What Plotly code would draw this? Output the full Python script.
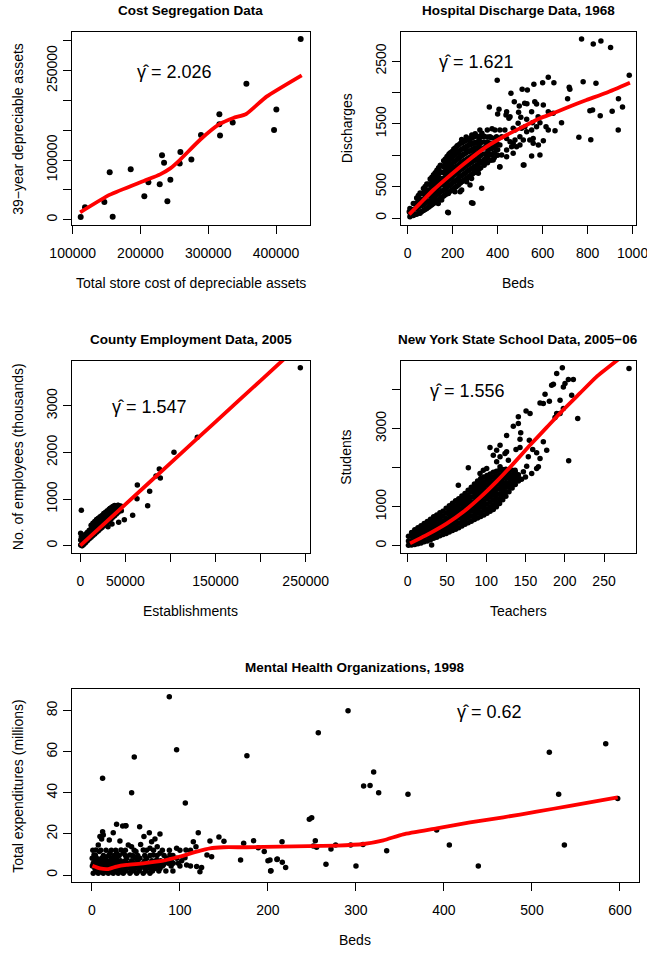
import plotly.graph_objects as go

W, H = 647, 953

# ---------------- Panel 1: Cost Segregation ----------------
cs_total = [111800, 118200, 146700, 154600, 159000, 185600, 205700, 211700, 228400, 231800,
            234800, 239700, 244100, 257900, 258900, 275100, 289300, 316400, 316400, 317400,
            336100, 356300, 397100, 400500, 436400]
cs_39yr = [4500, 20700, 29600, 79400, 5000, 84500, 39100, 62600, 59300, 107900,
           95600, 30800, 67100, 94000, 113500, 100700, 142100, 176700, 160000, 141000,
           162800, 228200, 150400, 184600, 303100]
cs_fit_x = [111000, 155000, 205000, 229000, 244000, 258000, 288000, 317000, 337000, 356000, 386000, 437900]
cs_fit_y = [12300, 42000, 65000, 76000, 86000, 100000, 134000, 160500, 170600, 177300, 206400, 242200]

# ---------------- Panel 2: Hospital discharge ----------------
hosp_points = [
    (773, 2851), (825, 2771), (859, 2819), (902, 2713), (985, 2272), (398, 2192), (780, 2171),
    (837, 2144), (650, 2155), (600, 2155), (625, 2240), (561, 2128), (509, 2049), (532, 2038),
    (459, 1985), (718, 2081), (721, 2049), (711, 1900), (937, 1900), (955, 1767), (822, 1720),
    (810, 1709), (856, 1630), (909, 1698), (936, 1401), (761, 1284), (814, 1247), (363, 1767),
    (406, 1730), (400, 1656), (474, 1853), (520, 1826), (496, 1784), (530, 1821), (565, 1853),
    (573, 1815), (551, 1693), (603, 1800), (493, 1683), (503, 1603), (437, 1640), (455, 1614),
    (440, 1693), (450, 1587), (625, 1693), (647, 1667), (580, 1614), (588, 1518), (615, 1454),
    (625, 1401), (655, 1390), (684, 1518), (555, 1518), (529, 1571), (551, 1401), (529, 1375),
    (558, 1268), (514, 1242), (477, 1242), (499, 1162), (484, 1136), (603, 1231), (588, 1003),
    (551, 987), (517, 844), (469, 1030), (410, 817), (375, 1422), (354, 1401), (321, 1401),
    (336, 1295), (388, 1401), (418, 1295), (440, 1268), (455, 1215), (410, 1162), (395, 1083),
    (380, 923), (351, 976), (336, 870), (314, 711), (351, 1189), (321, 1215), (299, 1189),
    (292, 1083), (277, 1215), (262, 1083), (240, 1003), (218, 1056), (188, 1019), (247, 897),
    (299, 764), (284, 631), (262, 578), (277, 525), (225, 605), (210, 419), (233, 419),
    (181, 392), (151, 286), (136, 233), (181, 85), (284, 244), (240, 446), (358, 1083),
    (380, 1189), (432, 1401), (469, 1428), (491, 1507), (477, 1401), (506, 1428),
    (521, 1454), (573, 1454), (366, 1136), (395, 1295), (410, 1401), (366, 1295),
    (344, 923), (373, 1003), (440, 1083), (462, 1136), (418, 1003), (440, 976), (469, 1189),
    (499, 1295), (543, 1242), (558, 1189), (581, 1162), (290, 234), (178, 91), (329, 473),
    (514, 844), (409, 812), (184, 1019), (225, 950), (7, 101), (55, 74), (22, 127),
    (300, 1340), (330, 1350), (285, 1320), (260, 1290), (240, 1250),
]
# dense cloud of small hospitals, read column by column (beds, [discharges...])
hosp_cloud = [
    (10, [20, 85, 150]), (17.5, [50, 120]), (25, [40, 135, 230]), (32.5, [55, 145, 230]),
    (40, [60, 150, 240, 320]), (47.5, [75, 170, 270, 360]),
    (55, [90, 195, 300, 400]), (62.5, [105, 200, 300, 390]),
    (70, [120, 210, 295, 385, 470]), (77.5, [135, 230, 320, 410, 500]),
    (85, [150, 250, 345, 440, 540]), (92.5, [170, 260, 355, 445, 540]),
    (100, [190, 275, 360, 450, 535, 620]), (107.5, [210, 300, 385, 475, 565, 650]),
    (115, [230, 320, 410, 505, 595, 690]), (122.5, [250, 345, 440, 535, 630, 720]),
    (130, [270, 370, 465, 565, 660, 760]), (137.5, [290, 390, 495, 595, 700, 800]),
    (145, [310, 415, 525, 630, 735, 840]), (152.5, [330, 430, 530, 630, 730, 830]),
    (160, [350, 445, 535, 630, 720, 815, 910]), (167.5, [370, 465, 560, 655, 750, 850, 940]),
    (175, [390, 490, 585, 685, 785, 880, 980]), (182.5, [410, 510, 610, 710, 810, 910, 1000]),
    (190, [430, 530, 630, 735, 835, 940, 1040]), (197.5, [450, 550, 655, 760, 860, 965, 1060]),
    (205, [470, 575, 680, 785, 890, 995, 1100]), (212.5, [490, 595, 700, 805, 910, 1015, 1120]),
    (220, [510, 615, 720, 830, 935, 1040, 1150]), (227.5, [535, 640, 745, 850, 955, 1060, 1165]),
    (235, [560, 665, 770, 875, 980, 1085, 1190]), (242.5, [580, 680, 785, 890, 995, 1100, 1200]),
    (250, [600, 700, 805, 910, 1015, 1120, 1220]), (257.5, [620, 720, 825, 925, 1030, 1130, 1230]),
    (265, [640, 745, 845, 945, 1050, 1150, 1250]), (272.5, [660, 760, 860, 960, 1060, 1160, 1260]),
    (280, [680, 780, 880, 975, 1075, 1170, 1270]), (287.5, [700, 795, 895, 990, 1090, 1185, 1280]),
    (295, [720, 815, 915, 1010, 1105, 1200, 1290]), (302.5, [740, 830, 925, 1020, 1110, 1200]),
    (310, [760, 850, 940, 1030, 1120, 1210, 1300]), (317.5, [780, 875, 970, 1065, 1160, 1250]),
    (325, [800, 900, 1000, 1100, 1200, 1300]), (340, [840, 930, 1020, 1120, 1210, 1300]),
    (347.5, [945, 1120]), (355, [880, 960, 1040, 1130, 1210, 1290]), (370, [920, 1010, 1100, 1190, 1280]),
    (385, [960, 1040, 1120, 1190, 1270]), (400, [1000, 1085, 1170, 1260]),
]
hosp_beds = [p[0] for p in hosp_points] + [c[0] for c in hosp_cloud for _ in c[1]]
hosp_discharges = [p[1] for p in hosp_points] + [v for c in hosp_cloud for v in c[1]]
hosp_fit_x = [7, 55, 114, 173, 262, 351, 440, 529, 588, 647, 707, 795, 884, 988]
hosp_fit_y = [58, 233, 446, 632, 897, 1136, 1322, 1481, 1587, 1667, 1757, 1879, 1996, 2155]

# ---------------- Panel 3: County employment ----------------
county_points = [
    (244030, 3820), (129800, 2325), (103920, 2004), (87650, 1646), (83960, 1496), (88770, 1453),
    (63260, 1303), (76930, 1167), (62890, 1009), (74720, 859), (58080, 652), (48840, 559),
    (42550, 502), (1150, 759),
    (406, 15), (4843, 122), (10760, 237), (16670, 337), (22590, 451), (28500, 559),
    (34420, 673), (40330, 780), (43290, 838), (45510, 752), (35160, 466), (30720, 408),
    (406, 265), (1145, 194), (406, 122), (3364, 37), (1885, 5), (5582, 230), (19630, 566),
    (27760, 695), (33310, 802), (38110, 838), (41810, 866), (44770, 852),
]
county_cloud = [
    (2000, [0, 90, 180]), (4000, [30, 120, 210]), (6000, [70, 160, 250]), (8000, [110, 200, 290]),
    (10000, [150, 240, 330]), (12000, [180, 270, 360, 440]), (14000, [220, 310, 400, 480]),
    (16000, [250, 340, 430, 520]), (18000, [290, 380, 470, 560]), (20000, [320, 410, 500, 590]),
    (22000, [360, 450, 540, 620]), (24000, [390, 480, 570, 650]), (26000, [430, 520, 610, 690]),
    (28000, [460, 550, 640, 720]), (30000, [500, 590, 680, 750]), (32000, [540, 630, 710, 780]),
    (34000, [570, 660, 750, 810]), (36000, [610, 700, 780, 840]), (38000, [640, 730, 810, 860]),
    (40000, [680, 770, 850]), (42000, [720, 800, 860]), (44000, [760, 830]),
]
county_estab = [p[0] for p in county_points] + [c[0] for c in county_cloud for _ in c[1]]
county_employees = [p[1] for p in county_points] + [v for c in county_cloud for v in c[1]]
county_fit_x = [0, 50000, 100000, 150000, 200000, 250000]
county_fit_y = [0, 886, 1772, 2658, 3544, 4430]

# ---------------- Panel 4: NY schools ----------------
school_points = [
    (281.8, 4536), (196.9, 4561), (189.7, 4408), (210.9, 4255), (204.6, 4255), (200.3, 4152),
    (185.5, 4135), (198.2, 4067), (174.9, 3879), (172.7, 3641), (180.4, 3700), (168.5, 3658),
    (208.8, 3854), (198.2, 3513), (194, 3385), (187.6, 3283), (216.5, 3257), (205, 2175),
    (150.7, 3453), (155.8, 3385), (140.9, 3300), (134.5, 3061), (143.9, 2891), (126, 2822),
    (143, 2729), (154.9, 2703), (117.6, 2575), (104.8, 2515), (113.3, 2447), (126, 2405),
    (137.9, 2464), (143, 2515), (159.2, 2464), (164.2, 2379), (177, 2447), (153.6, 2277),
    (168.5, 2234), (151.5, 2038), (164.2, 1978), (147.3, 1893), (157.9, 1851), (136.7, 1936),
    (128.2, 2191), (113.3, 2149), (117.6, 2021), (77.2, 1995), (128.2, 1808),
    (183.3, 4110), (194, 3726), (189.7, 3385), (172.7, 2660), (166.4, 2021), (140.9, 3129),
    (109, 2319), (117.6, 2277), (123.9, 2362), (64.5, 1552), (100.6, 1978), (92.1, 1851),
    (96.3, 1936), (30.5, 18), (145, 1700), (150, 1760),
]
# dense band of districts, read column by column (teachers, [students...])
school_cloud = [
    (1, [10, 120, 240]), (5, [20, 130, 240, 340]), (9, [30, 130, 230, 330, 410]),
    (13, [50, 150, 250, 350, 460]), (17, [70, 180, 290, 400, 510]),
    (21, [100, 215, 330, 450, 570]), (25, [120, 245, 370, 495, 620]),
    (29, [150, 260, 370, 480, 580, 680]), (33, [190, 300, 410, 520, 630, 740]),
    (37, [220, 335, 450, 560, 675, 790]), (41, [255, 375, 490, 610, 725, 845]),
    (45, [285, 400, 520, 640, 760, 880]), (49, [310, 440, 570, 700, 830, 960]),
    (53, [350, 460, 570, 690, 800, 910, 1025]), (57, [390, 505, 620, 735, 850, 970, 1085]),
    (61, [420, 540, 660, 780, 905, 1025, 1150]), (65, [460, 585, 710, 835, 955, 1080, 1205]),
    (69, [505, 615, 725, 835, 945, 1055, 1165, 1275]),
    (73, [550, 665, 775, 890, 1000, 1115, 1230, 1340]),
    (77, [590, 710, 825, 945, 1065, 1185, 1300, 1420]),
    (81, [630, 755, 880, 1005, 1125, 1250, 1375, 1500]),
    (85, [670, 785, 900, 1010, 1125, 1240, 1350, 1465, 1580]),
    (89, [710, 830, 945, 1065, 1180, 1300, 1420, 1535, 1655]),
    (93, [750, 870, 990, 1110, 1235, 1355, 1475, 1595, 1720]),
    (97, [790, 910, 1030, 1155, 1275, 1395, 1520, 1640, 1760]),
    (101, [830, 950, 1070, 1195, 1315, 1435, 1560, 1680, 1800]),
    (105, [880, 1000, 1120, 1240, 1360, 1480, 1600, 1720, 1840]),
    (109, [930, 1050, 1170, 1290, 1405, 1525, 1640, 1760, 1880]),
    (113, [995, 1110, 1225, 1340, 1450, 1565, 1680, 1790, 1905]),
    (117, [1080, 1200, 1320, 1445, 1565, 1690, 1810, 1935]),
    (121, [1180, 1290, 1400, 1510, 1620, 1730, 1840, 1950]),
    (125, [1270, 1385, 1500, 1615, 1730, 1845, 1960]),
    (129, [1380, 1495, 1610, 1725, 1840, 1955]),
    (133, [1480, 1590, 1700, 1815, 1930]), (137, [1570, 1680, 1790, 1890]),
    (141, [1660, 1740, 1820]),
]
school_teachers = [p[0] for p in school_points] + [c[0] for c in school_cloud for _ in c[1]]
school_students = [p[1] for p in school_points] + [v for c in school_cloud for v in c[1]]
school_fit_x = [3, 28, 50, 71, 92, 113, 134, 155, 177, 198, 219, 240, 270]
school_fit_y = [61, 316, 571, 869, 1230, 1640, 2090, 2560, 3030, 3480, 3900, 4320, 4800]

# ---------------- Panel 5: Mental health ----------------
mh_points = [
    (87.9, 86.8), (96.2, 61.0), (48.1, 57.4), (176.1, 58.1), (12.1, 47.1), (45.1, 40.1), (106.1, 35.0),
    (291, 80.0), (257.2, 69.3), (583.8, 63.9), (519.7, 59.7), (320.1, 50.1), (308.7, 43.3), (316, 43.6),
    (325.8, 40.1), (359.1, 39.3), (530.3, 39.3), (247, 27.1), (249.7, 27.9), (597.4, 37.3), (391.7, 21.9),
    (253.8, 16.7), (216, 16.2), (251.5, 14.1), (255.3, 13.5), (271.6, 12.7), (276.9, 14.6), (294, 14.6),
    (308, 14.8), (334.9, 11.8), (406.1, 14.6), (536.8, 14.6), (265.9, 5.2), (300, 4.4), (439, 4.4),
    (202.3, 7.3), (210.6, 7.8), (216.3, 6.2), (220.1, 3.6), (203.4, 2.1),
    (28, 24.7), (38.3, 24.0), (24.2, 20.6), (12.1, 21.1), (54.2, 23.5), (65.2, 20.6), (77.3, 19.95),
    (120.8, 20.6), (144.3, 18.5), (150, 16.4), (183.7, 16.7), (172.4, 15.4), (189, 13.3), (195.8, 11.4),
    (168.9, 7.3), (200, 7.0), (203, 1.9), (210.2, 7.5), (124.6, 3.6), (119, 4.1), (122.7, 1.6),
    (134.1, 16.6), (130.7, 9.7), (136, 8.9), (118.2, 13.8), (115.2, 16.2), (96.2, 13.0), (106.8, 12.2),
    (107.6, 4.9), (105.7, 8.4), (96.2, 8.1), (12.9, 19.5), (11, 17.5), (7.2, 14.6), (4.5, 12.2),
    (19.7, 17.0), (31.8, 16.6), (33, 12.2), (41.3, 14.6), (45, 13.8), (50, 11.4), (55.3, 14.9),
    (58.3, 12.2), (65.9, 13.0), (67.8, 16.2), (71.6, 17.5), (74.2, 13.8), (59.1, 18.7), (48.9, 8.1),
    (43.2, 9.7), (35.6, 10.6), (28, 10.6), (20.5, 10.6), (15.9, 8.1), (69.7, 9.7), (77.3, 10.6),
    (84.9, 8.1), (88.6, 9.7), (73.5, 7.3), (81.1, 4.9), (2.3, 9.7), (8.3, 11.4), (9.1, 18.7),
    (34.9, 23.8), (38.6, 24.0),
]
# dense low-expenditure cloud, read row by row (expenditure, [beds...])
mh_cloud = [
    (0.8, [1.5, 7.2, 12.9, 18.6, 24.2, 29.9, 35.6, 43.2, 50.8, 58.3, 65.9]),
    (2.0, [4.3, 10, 15.7, 21.4, 27, 32.7, 38.4, 46, 53.6, 61.2, 68.8, 76, 84, 92]),
    (3.2, [3.4, 9.1, 14.8, 20.5, 26.1, 31.8, 37.5, 43.2, 48.9, 54.5, 60.2, 65.9, 71.6, 77.3]),
    (4.4, [0.5, 6.1, 11.8, 17.5, 23.2, 28.9, 34.5, 40.2, 45.9, 51.6, 57.3, 63, 68.6, 74.3, 80, 90, 100, 112]),
    (5.7, [1.5, 7.2, 12.9, 18.6, 24.2, 29.9, 35.6, 41.3, 47, 52.7, 58.3, 64, 69.7, 75.4, 81.1, 86.7, 92.4, 98.1]),
    (6.9, [4, 9.7, 15.4, 21, 26.7, 32.4, 38, 45, 52, 60, 68, 78, 90, 102]),
    (8.1, [0.3, 5.3, 11, 22.4, 28, 39.4, 54.5, 62.1]),
    (9.5, [4, 13, 19, 25, 31, 38, 46, 52, 60, 66, 74, 82, 92]),
    (12.0, [1, 10, 16, 22, 27, 38, 48, 62, 70, 80, 88, 100, 112]),
]
mh_beds = [p[0] for p in mh_points] + [b for r in mh_cloud for b in r[1]]
mh_expend = [p[1] for p in mh_points] + [r[0] for r in mh_cloud for _ in r[1]]
mh_fit_x = [0.5, 9.1, 18.6, 28, 39.4, 58.3, 81.1, 100, 119, 134.1, 149.2, 175.8, 213.6, 278, 308.4,
            331.1, 353.8, 391.7, 429.6, 467.5, 505.3, 543.2, 597.4]
mh_fit_y = [4.5, 3.2, 2.9, 4.1, 4.9, 5.7, 7.0, 9.0, 11.4, 13.0, 13.5, 13.5, 13.8, 14.3, 15.1,
            16.9, 19.8, 22.7, 25.6, 28.1, 30.8, 33.7, 37.8]

# ---------------- Titles, labels, ticks ----------------
titles = ["Cost Segregation Data", "Hospital Discharge Data, 1968", "County Employment Data, 2005",
          "New York State School Data, 2005\u221206", "Mental Health Organizations, 1998"]
xlabels = ["Total store cost of depreciable assets", "Beds", "Establishments", "Teachers", "Beds"]
ylabels = ["39\u2212year depreciable assets", "Discharges", "No. of employees (thousands)",
           "Students", "Total expenditures (millions)"]
gamma_labels = ["2.026", "1.621", "1.547", "1.556", "0.62"]

x1_ticks = [100000, 200000, 300000, 400000]
x1_text = ["100000", "200000", "300000", "400000"]
y1_ticks = [0, 50000, 100000, 150000, 200000, 250000, 300000]
y1_text = ["0", "", "100000", "", "", "250000", ""]
x2_ticks = [0, 200, 400, 600, 800, 1000]
x2_text = ["0", "200", "400", "600", "800", "1000"]
y2_ticks = [0, 500, 1000, 1500, 2000, 2500]
y2_text = ["0", "500", "", "1500", "", "2500"]
x3_ticks = [0, 50000, 100000, 150000, 200000, 250000]
x3_text = ["0", "50000", "", "150000", "", "250000"]
y3_ticks = [0, 1000, 2000, 3000]
y3_text = ["0", "1000", "2000", "3000"]
x4_ticks = [0, 50, 100, 150, 200, 250]
x4_text = ["0", "50", "100", "150", "200", "250"]
y4_ticks = [0, 1000, 2000, 3000, 4000]
y4_text = ["0", "1000", "", "3000", ""]
x5_ticks = [0, 100, 200, 300, 400, 500, 600]
x5_text = ["0", "100", "200", "300", "400", "500", "600"]
y5_ticks = [0, 20, 40, 60, 80]
y5_text = ["0", "20", "40", "60", "80"]

# ---------------- Layout geometry (pixels) ----------------
FONT = "Liberation Sans, Arial, Helvetica, sans-serif"
boxes = [  # left, right, top, bottom
    (71.7, 310.0, 32.3, 225.3),
    (400.7, 636.0, 32.3, 225.3),
    (71.7, 310.0, 361.0, 553.3),
    (400.7, 636.0, 361.0, 553.3),
    (71.7, 639.0, 689.3, 882.3),
]
xranges = [[98525, 450150], [-31, 1015], [-9540, 254770], [-8.9, 290.7], [-23, 621.6]]
yranges = [[-9500, 314330], [-116, 2957], [-163, 3963], [-194, 4731], [-3.55, 90.4]]
xticks = [(x1_ticks, x1_text), (x2_ticks, x2_text), (x3_ticks, x3_text), (x4_ticks, x4_text), (x5_ticks, x5_text)]
yticks = [(y1_ticks, y1_text), (y2_ticks, y2_text), (y3_ticks, y3_text), (y4_ticks, y4_text), (y5_ticks, y5_text)]
gamma_px = [(135, 78.3), (436.7, 68.3), (110, 413.3), (427.7, 397.3), (455, 718.3)]  # gamma left, baseline

series = [
    (cs_total, cs_39yr, cs_fit_x, cs_fit_y, 6),
    (hosp_beds, hosp_discharges, hosp_fit_x, hosp_fit_y, 5.5),
    (county_estab, county_employees, county_fit_x, county_fit_y, 5.5),
    (school_teachers, school_students, school_fit_x, school_fit_y, 5.5),
    (mh_beds, mh_expend, mh_fit_x, mh_fit_y, 5.5),
]

fig = go.Figure()
annotations = []


def px_x(p):
    return p / W


def px_y(p):
    return 1 - p / H


for i, (xs, ys, fx, fy, msize) in enumerate(series):
    n = "" if i == 0 else str(i + 1)
    fig.add_trace(go.Scatter(x=xs, y=ys, mode="markers", xaxis="x" + n, yaxis="y" + n,
                             marker=dict(color="black", size=msize, line=dict(width=0)),
                             hoverinfo="skip", showlegend=False))
    fig.add_trace(go.Scatter(x=fx, y=fy, mode="lines", xaxis="x" + n, yaxis="y" + n,
                             line=dict(color="#FF0000", width=3.8, shape="spline", smoothing=0.5),
                             hoverinfo="skip", showlegend=False))
    l, r, t, b = boxes[i]
    common = dict(showline=True, linecolor="black", linewidth=1, mirror=True, ticks="outside",
                  ticklen=8, tickwidth=1, tickcolor="black", showgrid=False, zeroline=False,
                  automargin=False, ticklabeloverflow="allow",
                  tickfont=dict(family=FONT, size=14, color="black"), fixedrange=True)
    fig.layout["xaxis" + n] = dict(domain=[px_x(l), px_x(r)], range=xranges[i],
                                   anchor="y" + n, tickmode="array", tickvals=xticks[i][0],
                                   ticktext=xticks[i][1], ticklabelstandoff=7, **common)
    fig.layout["yaxis" + n] = dict(domain=[px_y(b), px_y(t)], range=yranges[i],
                                   anchor="x" + n, tickmode="array", tickvals=yticks[i][0],
                                   ticktext=yticks[i][1], tickangle=-90, **common)
    cx = (l + r) / 2
    cy = (t + b) / 2
    annotations.append(dict(text="<b>" + titles[i] + "</b>", x=px_x(cx), y=px_y(t - 22),
                            xref="paper", yref="paper", showarrow=False, xanchor="center",
                            yanchor="middle", font=dict(family=FONT, size=13.5, color="black")))
    annotations.append(dict(text=xlabels[i], x=px_x(cx), y=px_y(b + 58), xref="paper", yref="paper",
                            showarrow=False, xanchor="center", yanchor="middle",
                            font=dict(family=FONT, size=14, color="black")))
    ylx = 18 if l < 100 else 346.5
    annotations.append(dict(text=ylabels[i], x=px_x(ylx), y=px_y(cy), xref="paper", yref="paper",
                            showarrow=False, xanchor="center", yanchor="middle", textangle=-90,
                            font=dict(family=FONT, size=14, color="black")))
    gx, gb = gamma_px[i]
    annotations.append(dict(text="\u03b3\u0302 = " + gamma_labels[i], x=px_x(gx), y=px_y(gb - 6),
                            xref="paper", yref="paper", showarrow=False, xanchor="left",
                            yanchor="middle", font=dict(family=FONT, size=18, color="black")))

fig.update_layout(width=W, height=H, autosize=False, margin=dict(l=0, r=0, t=0, b=0, autoexpand=False),
                  paper_bgcolor="white", plot_bgcolor="white", showlegend=False,
                  annotations=annotations)

fig.write_html("out.html", include_plotlyjs=True, config={"displayModeBar": False},
               post_script="document.body.style.margin='0px';")
